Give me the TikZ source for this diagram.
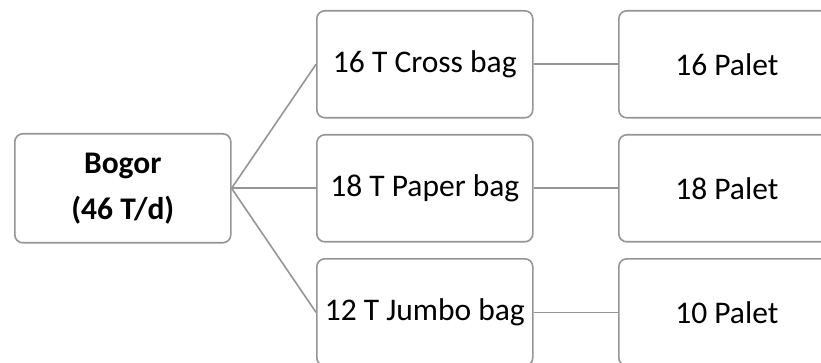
\documentclass[tikz,border=0pt]{standalone}
\usepackage{fontspec}
\setmainfont{Carlito}
\definecolor{edgegray}{HTML}{959595}
\begin{document}
\begin{tikzpicture}[x=1pt,y=-1pt,
  box/.style={draw=edgegray,line width=1.6pt,rounded corners=8pt,fill=white,
    minimum width=216pt,minimum height=107pt,inner sep=0pt,font=\fontsize{31.5}{44}\selectfont,
    align=center,anchor=north west},
  link/.style={draw=edgegray,line width=1.6pt}]
\useasboundingbox (0,0) rectangle (821,363);
\clip (0,0) rectangle (821,363);
% source
\node[box,minimum height=109pt,font=\fontsize{31.5}{46}\selectfont\bfseries] (src) at (14,133) {Bogor\\(46 T/d)};
% bag types
\node[box] (b1) at (316,10) {16 T Cross bag};
\node[box] (b2) at (316,134) {18 T Paper bag};
\node[box] (b3) at (316,258) {12 T Jumbo bag};
% pallets
\node[box] (p1) at (618,10) {16 Palet};
\node[box] (p2) at (618,134) {18 Palet};
\node[box] (p3) at (618,258) {10 Palet};
% connectors
\draw[link] (src.east) -- (b1.west);
\draw[link] (src.east) -- (b2.west);
\draw[link] (src.east) -- (b3.west);
\draw[link] (b1.east) -- (p1.west);
\draw[link] (b2.east) -- (p2.west);
\draw[link] (b3.east) -- (p3.west);
\end{tikzpicture}
\end{document}
